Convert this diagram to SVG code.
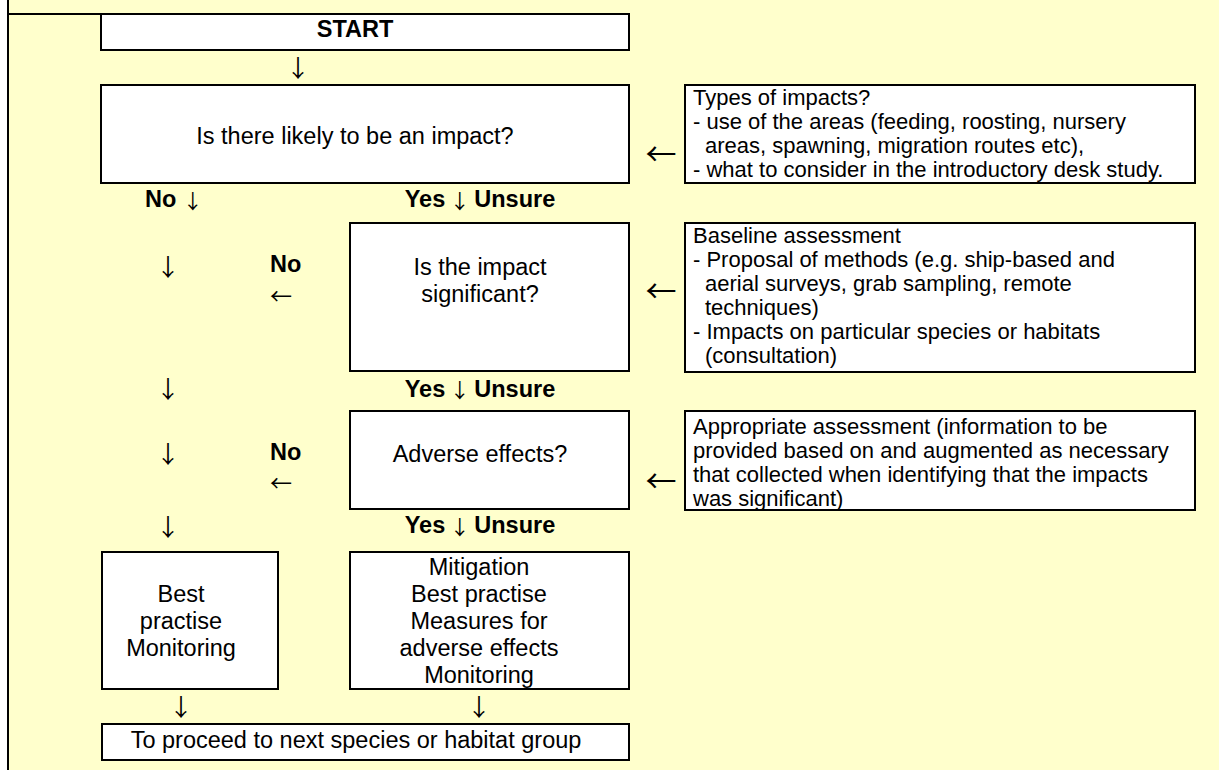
<svg xmlns="http://www.w3.org/2000/svg" width="1219" height="770" viewBox="0 0 1219 770">
<style>
.box{fill:#fff;stroke:#000;stroke-width:2}
.t{font-family:"Liberation Sans",Arial,sans-serif;font-size:23.5px;fill:#000}
.s{font-family:"Liberation Sans",Arial,sans-serif;font-size:22px;fill:#000}
.c{text-anchor:middle}
.b{font-weight:bold}
.lbl{word-spacing:-2px}
.a{font-family:"Noto Sans CJK SC","DejaVu Sans",sans-serif;font-size:24px;font-weight:normal;fill:#000;text-anchor:middle}
.as{font-family:"Noto Sans CJK SC","DejaVu Sans",sans-serif;font-size:22px;font-weight:normal;fill:#000;text-anchor:middle}
.ai{font-family:"Noto Sans CJK SC","DejaVu Sans",sans-serif;font-size:20px;font-weight:normal;fill:#000}
.aL{font-family:"Noto Sans CJK SC","DejaVu Sans",sans-serif;font-size:31px;font-weight:normal;fill:#000;text-anchor:middle}
.frame{stroke:#000;stroke-width:2;fill:none}
</style>
<rect x="0" y="0" width="1219" height="770" fill="#fff"/>
<rect x="8" y="0" width="1211" height="770" fill="#FFFFCC"/>
<g id="frame">
<line class="frame" x1="8" y1="0" x2="8" y2="770"/>
<line class="frame" x1="8" y1="14" x2="629" y2="14"/>
</g>
<g id="start">
<rect class="box" x="101" y="14" width="528" height="36"/>
<text class="t c b" x="355" y="37">START</text>
</g>
<g id="q-impact">
<rect class="box" x="101" y="85" width="528" height="98"/>
<text class="t c" x="355" y="144">Is there likely to be an impact?</text>
</g>
<g id="q-significant">
<rect class="box" x="350" y="223" width="279" height="148"/>
<text class="t c" x="480" y="275">Is the impact</text>
<text class="t c" x="480" y="302">significant?</text>
</g>
<g id="q-adverse">
<rect class="box" x="350" y="411" width="279" height="98"/>
<text class="t c" x="480" y="462">Adverse effects?</text>
</g>
<g id="best-practise">
<rect class="box" x="102" y="552" width="176" height="137"/>
<text class="t c" x="181" y="602">Best</text>
<text class="t c" x="181" y="629">practise</text>
<text class="t c" x="181" y="656">Monitoring</text>
</g>
<g id="mitigation">
<rect class="box" x="350" y="552" width="279" height="137"/>
<text class="t c" x="479" y="575">Mitigation</text>
<text class="t c" x="479" y="602">Best practise</text>
<text class="t c" x="479" y="629">Measures for</text>
<text class="t c" x="479" y="656">adverse effects</text>
<text class="t c" x="479" y="683">Monitoring</text>
</g>
<g id="next">
<rect class="box" x="102" y="724" width="527" height="36"/>
<text class="t c" x="356" y="748">To proceed to next species or habitat group</text>
</g>
<g id="note-types">
<rect class="box" x="685" y="85" width="510" height="98"/>
<text class="s" x="693" y="105">Types of impacts?</text>
<text class="s" x="693" y="129">- use of the areas (feeding, roosting, nursery</text>
<text class="s" x="705" y="153">areas, spawning, migration routes etc),</text>
<text class="s" x="693" y="177">- what to consider in the introductory desk study.</text>
</g>
<g id="note-baseline">
<rect class="box" x="685" y="223" width="510" height="149"/>
<text class="s" x="693" y="243">Baseline assessment</text>
<text class="s" x="693" y="267">- Proposal of methods (e.g. ship-based and</text>
<text class="s" x="705" y="291">aerial surveys, grab sampling, remote</text>
<text class="s" x="705" y="315">techniques)</text>
<text class="s" x="693" y="339">- Impacts on particular species or habitats</text>
<text class="s" x="705" y="363">(consultation)</text>
</g>
<g id="note-appropriate">
<rect class="box" x="685" y="411" width="510" height="99"/>
<text class="s" x="693" y="434">Appropriate assessment (information to be</text>
<text class="s" x="693" y="458">provided based on and augmented as necessary</text>
<text class="s" x="693" y="482">that collected when identifying that the impacts</text>
<text class="s" x="693" y="506">was significant)</text>
</g>
<g id="labels">
<text class="t b" x="145" y="207">No <tspan class="ai" dy="2">↓</tspan></text>
<text class="t b c lbl" x="480" y="207">Yes <tspan class="ai" dy="2">↓</tspan><tspan dy="-2"> Unsure</tspan></text>
<text class="t b c lbl" x="480" y="397">Yes <tspan class="ai" dy="1">↓</tspan><tspan dy="-1"> Unsure</tspan></text>
<text class="t b c lbl" x="480" y="533">Yes <tspan class="ai" dy="2">↓</tspan><tspan dy="-2"> Unsure</tspan></text>
<text class="t b" x="270" y="272">No</text>
<text class="t b" x="270" y="460">No</text>
</g>
<g id="connectors">
<text class="a" x="298" y="77">↓</text>
<text class="a" x="168" y="276">↓</text>
<text class="a" x="168" y="398">↓</text>
<text class="a" x="168" y="463">↓</text>
<text class="a" x="168" y="536">↓</text>
<text class="a" x="181" y="716">↓</text>
<text class="a" x="479" y="716">↓</text>
<text class="as" x="281" y="304">←</text>
<text class="as" x="281" y="491">←</text>
<text class="aL" x="661" y="165">←</text>
<text class="aL" x="661" y="302">←</text>
<text class="aL" x="661" y="492">←</text>
</g>
</svg>
